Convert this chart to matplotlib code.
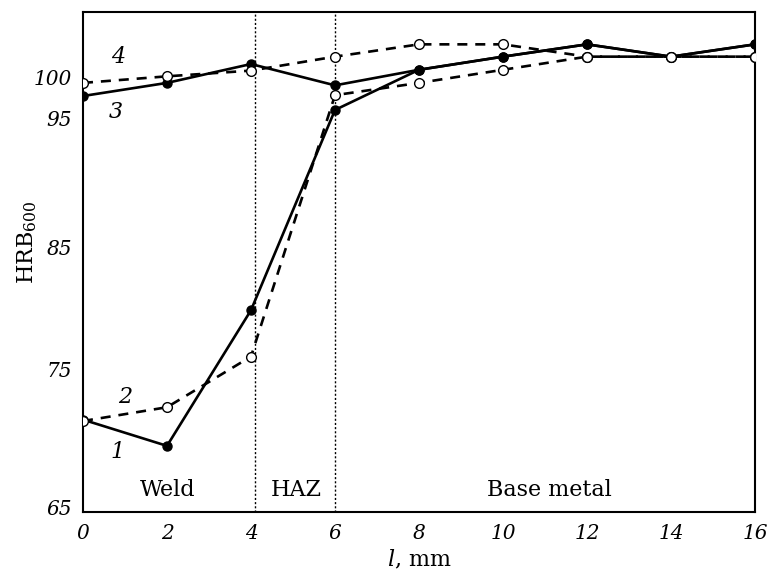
import numpy as np
import matplotlib
matplotlib.use("Agg")
import matplotlib.pyplot as plt

# ---- data (HRB600 hardness vs distance) ----
x_mm = [0, 2, 4, 6, 8, 10, 12, 14, 16]
curve1 = [71.4, 69.5, 79.9, 96.1, 101.0, 102.6, 104.1, 102.6, 104.1]
curve2 = [71.3, 72.3, 76.1, 97.9, 99.4, 101.0, 102.6, 102.6, 102.6]
curve3 = [97.8, 99.4, 101.7, 99.1, 101.0, 102.6, 104.1, 102.6, 104.1]
curve4 = [99.4, 100.2, 100.9, 102.6, 104.1, 104.1, 102.6, 102.6, 102.6]
curve_labels = ["1", "2", "3", "4"]
x_ticks = [0, 2, 4, 6, 8, 10, 12, 14, 16]
y_ticks = [65, 75, 85, 95, 100]
zone_bounds = [4.1, 6.0]
zone_names = ["Weld", "HAZ", "Base metal"]
zone_centers = [2.02, 5.07, 11.1]

# the original figure's value axis is not evenly spaced: piecewise scale
scale_v = [50, 65, 75, 85, 95, 100, 120]
scale_h = [-203, 4, 142, 264, 393, 434, 598]

def fwd(v):
    return np.interp(v, scale_v, scale_h)

def inv(h):
    return np.interp(h, scale_h, scale_v)

plt.rcParams['font.family'] = ['DejaVu Serif']
plt.rcParams['mathtext.fontset'] = 'dejavuserif'

fig = plt.figure(figsize=(7.72, 5.70), dpi=100)
ax = fig.add_axes([0.1075, 0.1018, 0.8705, 0.8772])
ax.set_yscale('function', functions=(fwd, inv))

lw = 1.9
ax.plot(x_mm, curve1, '-', color='black', lw=lw, marker='o', ms=6.5,
        mfc='black', mec='black', zorder=3)
ax.plot(x_mm, curve3, '-', color='black', lw=lw, marker='o', ms=6.5,
        mfc='black', mec='black', zorder=3)
ax.plot(x_mm, curve2, color='black', lw=1.9, ls=(0, (3.8, 3.0)), marker='o', ms=7,
        mfc='white', mec='black', mew=1.0, zorder=4)
ax.plot(x_mm, curve4, color='black', lw=1.9, ls=(0, (3.8, 3.0)), marker='o', ms=7,
        mfc='white', mec='black', mew=1.0, zorder=4)

for xb in zone_bounds:
    ax.axvline(xb, color='black', lw=1.0, ls=(0, (1.5, 1.5)), zorder=1)

ax.set_xlim(0, 16)
ax.set_ylim(inv(0), inv(500))
ax.set_xticks(x_ticks)
ax.set_xticklabels([str(t) for t in x_ticks])
ax.set_yticks(y_ticks)
ax.set_yticklabels([str(t) for t in y_ticks])
ax.minorticks_off()
ax.tick_params(axis='both', length=0, labelsize=14.5)
ax.tick_params(axis='x', pad=9)
ax.tick_params(axis='y', pad=8)
for lab in ax.get_xticklabels() + ax.get_yticklabels():
    lab.set_fontstyle('italic')

for s in ax.spines.values():
    s.set_linewidth(1.5)

# zone names
for name, xc in zip(zone_names, zone_centers):
    ax.text(xc, 0.044, name, transform=ax.get_xaxis_transform(),
            ha='center', va='center', fontsize=16)

# curve numbers
label_pos = [(0.052, 0.12), (0.0625, 0.23), (0.049, 0.80), (0.052, 0.91)]
for lab, (px, py) in zip(curve_labels, label_pos):
    ax.text(px, py, lab, transform=ax.transAxes, ha='center', va='center',
            fontsize=16, fontstyle='italic')

ax.set_xlabel(r'$\mathit{l}$, mm', fontsize=16)
ax.xaxis.set_label_coords(0.5, -0.072)
ax.set_ylabel(r'HRB$_{600}$', fontsize=16)
ax.yaxis.set_label_coords(-0.066, 0.54)

fig.savefig('out.png', dpi=100)
